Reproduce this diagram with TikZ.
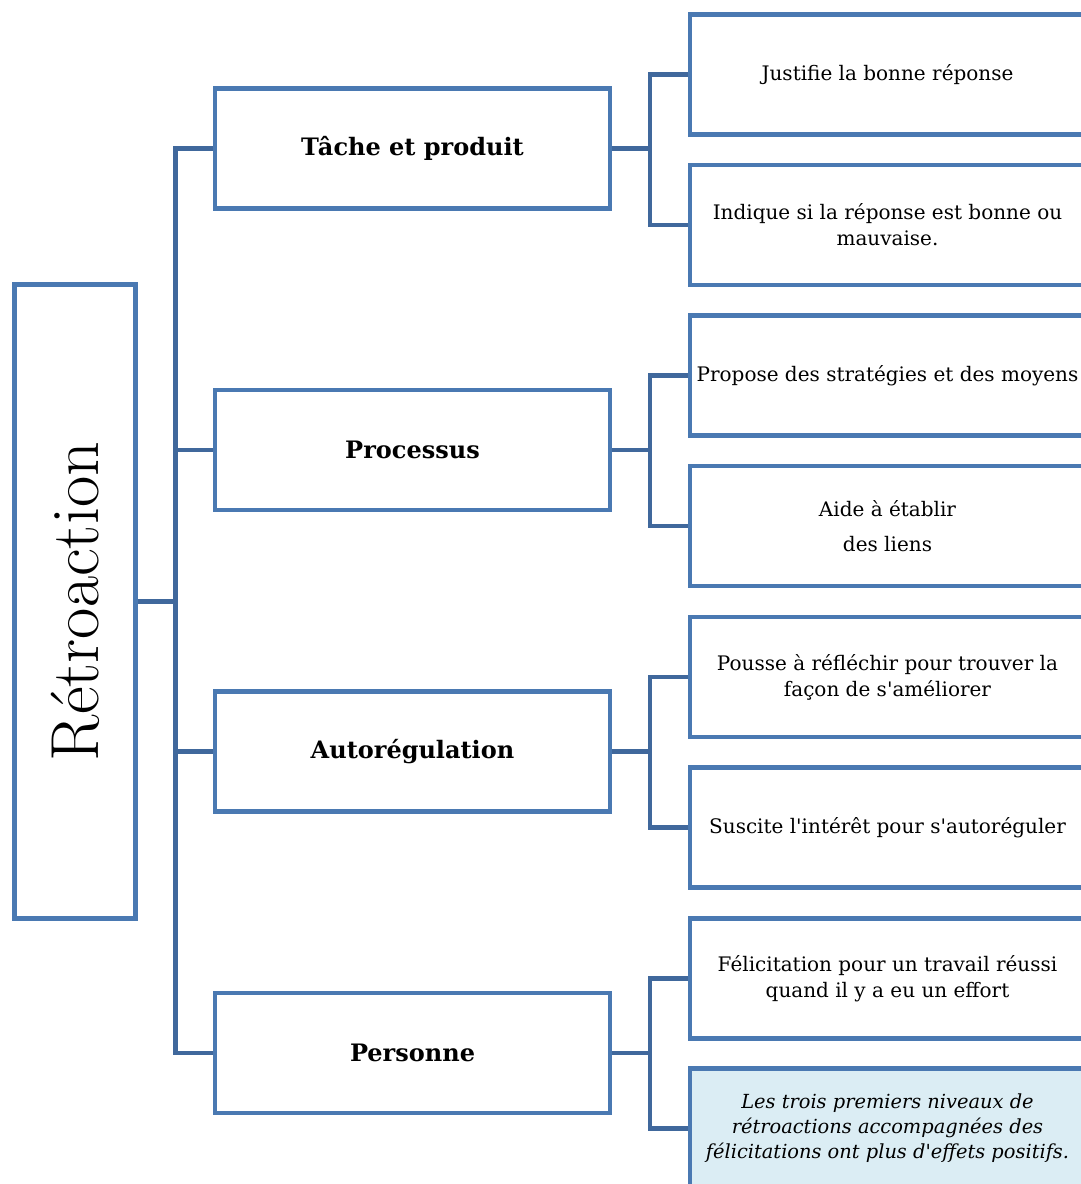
\documentclass[tikz,border=0pt]{standalone}
\usepackage{fontspec}
\newfontfamily\dv{DejaVu Serif}
\definecolor{boxblue}{RGB}{74,121,178}
\definecolor{connblue}{RGB}{64,104,156}
\definecolor{notefill}{RGB}{219,237,244}
\begin{document}
\begin{tikzpicture}[x=1pt,y=-1pt,
  basebox/.style={draw=boxblue, line width=4.5pt, fill=white, inner sep=0pt, align=center},
  rootbox/.style={basebox, minimum width=121pt, minimum height=634pt},
  midbox/.style={basebox, minimum width=395pt, minimum height=120pt, font=\dv\bfseries\fontsize{24}{29}\selectfont},
  leafbox/.style={basebox, minimum width=395pt, minimum height=120pt, font=\dv\fontsize{20}{26}\selectfont},
  notebox/.style={leafbox, fill=notefill, font=\dv\itshape\fontsize{19.4}{25}\selectfont},
  conn/.style={draw=connblue, line width=4.5pt}
]
\useasboundingbox (0,0) rectangle (1081,1184);
\clip (0,0) rectangle (1081,1184);
\fill[white] (0,0) rectangle (1081,1184);

\node[rootbox] (root) at (75,601.5) {};
\node[rotate=90, font=\fontsize{68}{78}\selectfont, inner sep=0pt] (roottext) at (root.center) {Rétroaction};

\node[midbox] (m1) at (412.5,148.5) {Tâche et produit};
\node[midbox] (m2) at (412.5,450) {Processus};
\node[midbox] (m3) at (412.5,751.5) {Autorégulation};
\node[midbox] (m4) at (412.5,1053) {Personne};

\node[leafbox] (a1) at (887.5,74.7) {Justifie la bonne réponse};
\node[leafbox] (a2) at (887.5,224.8) {Indique si la réponse est bonne ou\\mauvaise.};
\node[leafbox] (b1) at (887.5,375.5) {Propose des stratégies et des moyens};
\node[leafbox] (b2) at (887.5,526) {Aide à établir\\[9pt]des liens};
\node[leafbox] (c1) at (887.5,677) {Pousse à réfléchir pour trouver la\\façon de s'améliorer};
\node[leafbox] (c2) at (887.5,827.5) {Suscite l'intérêt pour s'autoréguler};
\node[leafbox] (d1) at (887.5,978.5) {Félicitation pour un travail réussi\\quand il y a eu un effort};
\node[notebox] (d2) at (887.5,1128.5) {Les trois premiers niveaux de\\rétroactions accompagnées des\\félicitations ont plus d'effets positifs.};

\coordinate (trunk) at (175.5,0);
\coordinate (fork) at (650,0);

\draw[conn] (root.east) -- (root.east -| trunk);
\draw[conn] (m1.west) -- (m1.west -| trunk) -- (m4.west -| trunk) -- (m4.west);
\draw[conn] (m2.west) -- (m2.west -| trunk);
\draw[conn] (m3.west) -- (m3.west -| trunk);

\foreach \m/\p/\q in {m1/a1/a2, m2/b1/b2, m3/c1/c2, m4/d1/d2}{
  \draw[conn] (\m.east) -- (\m.east -| fork);
  \draw[conn] (\p.west) -- (\p.west -| fork) -- (\q.west -| fork) -- (\q.west);
}
\end{tikzpicture}
\end{document}
